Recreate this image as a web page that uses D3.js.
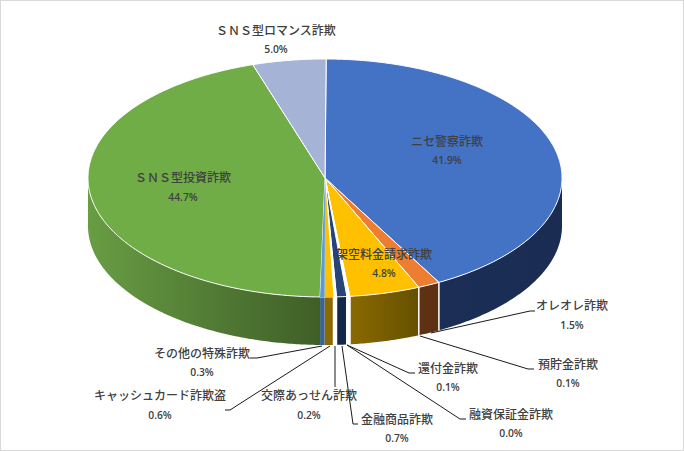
<!DOCTYPE html>
<html><head><meta charset="utf-8">
<script src="https://cdn.jsdelivr.net/npm/d3@7/dist/d3.min.js"></script>
<style>html,body{margin:0;padding:0;background:#fff}svg{display:block}
.name{font:500 12px "Noto Sans CJK JP";fill:#404040;text-anchor:middle}
.pct{font:600 10.3px "Open Sans";fill:#404040;text-anchor:middle}</style>
</head><body><svg id="c" width="684" height="451"></svg>
<script>
const categories=["ニセ警察詐欺","オレオレ詐欺","架空料金請求詐欺","預貯金詐欺","還付金詐欺","融資保証金詐欺","金融商品詐欺","交際あっせん詐欺","キャッシュカード詐欺盗","その他の特殊詐欺","ＳＮＳ型投資詐欺","ＳＮＳ型ロマンス詐欺"];
const values=[41.9,1.5,4.8,0.1,0.1,0.0,0.7,0.2,0.6,0.3,44.7,5.0];
const topColors=["#4472C4","#ED7D31","#FFC000","#fff","#fff","#fff","#264478","#fff","#FFC000","#5B9BD5","#70AD47","#A5B3D7"];
const wallLight=["#1b2e56","#5f3214","#8a6a00","#fff","#fff","#fff","#14264a","#fff","#8a6a00","#3a6490","#689d43","#5a6a90"];
const wallDark=["#1a2c52","#5c3013","#665000","#fff","#fff","#fff","#14264a","#fff","#8a6a00","#3a6490","#3f5e28","#5a6a90"];
// label layout: [name x, name y, pct y, leader points]
const labelX=[447,572,384,568,448,511,397,309,160,202,183,276];
const labelY=[142,306,255,365,369,415,420,396,396,354,178,31];
const pctY=[160,325,273,383,387,433,438,415,415,372,197,49];
const leaders=[null,[[431,333],[530,311],[535,311]],null,[[420,336],[528,369],[534,369]],[[347,345],[409,373],[415,373]],[[347,345],[460,419],[466,419]],[[342,346],[353,424],[358,424]],[[335,346],[335,387]],[[330,346],[230,410],[225,410]],[[322,346],[257,358],[250,358]],null,null];
const svg=d3.select("#c");
const W=684,H=451,depth=48;
const x=d3.scaleLinear().domain([-1,1]).range([88,562]);
const y=d3.scaleLinear().domain([-1,1]).range([59,297]);
svg.append("rect").attr("x",0.5).attr("y",0.5).attr("width",W-1).attr("height",H-1).attr("fill","#fff").attr("stroke","#d9d9d9");
const rot=0.005;
const pie=d3.pie().sort(null).value(d=>d).startAngle(rot).endAngle(2*Math.PI+rot);
const arcs=pie(values);
const defs=svg.append("defs");
const pt=a=>[x(Math.sin(a)),y(-Math.cos(a))];
const samples=(a0,a1)=>{const n=Math.max(2,Math.ceil((a1-a0)/0.01));return d3.range(n+1).map(i=>pt(a0+(a1-a0)*i/n));};
const line=d3.line();
const PI=Math.PI;
const blank=i=>(i>=3&&i<=5)||i==7;
// walls
arcs.forEach((d,i)=>{
  const a0=Math.max(d.startAngle,PI/2),a1=Math.min(d.endAngle,3*PI/2);
  if(a1<=a0)return;
  const top=samples(a0,a1),bot=top.slice().reverse().map(p=>[p[0],p[1]+depth]);
  const g=defs.append("linearGradient").attr("id","w"+i).attr("x1",0).attr("x2",1).attr("y1",0).attr("y2",0);
  g.append("stop").attr("offset",0).attr("stop-color",wallLight[i]);
  g.append("stop").attr("offset",1).attr("stop-color",wallDark[i]);
  svg.append("path").attr("d",line(top.concat(bot))+"Z").attr("fill",`url(#w${i})`)
    .attr("stroke",blank(i)?"#fff":"none").attr("stroke-width",1);
});
// wall separators
arcs.forEach((d,i)=>{
  const a=d.endAngle;
  if(a<=PI/2||a>=3*PI/2||i>=8)return;
  const p=pt(a);
  svg.append("line").attr("x1",p[0]).attr("x2",p[0]).attr("y1",p[1]).attr("y2",p[1]+depth).attr("stroke","#fff").attr("stroke-width",1.5);
});
// top faces
const face=(d,i,sw)=>svg.append("path").attr("d",line([[x(0),y(0)]].concat(samples(d.startAngle,d.endAngle)))+"Z")
  .attr("fill",topColors[i]).attr("stroke",sw?"#fff":"none").attr("stroke-width",sw).attr("stroke-linejoin","round");
arcs.forEach((d,i)=>face(d,i,1));
[8,9].forEach(i=>face(arcs[i],i,0));
// leaders
leaders.forEach(l=>{if(l)svg.append("path").attr("d",line(l)).attr("fill","none").attr("stroke","#1a1a1a").attr("stroke-width",1);});
// labels
categories.forEach((c,i)=>{
  svg.append("text").attr("class","name").attr("x",labelX[i]).attr("y",labelY[i]).attr("dy","0.36em").text(c);
  svg.append("text").attr("class","pct").attr("x",labelX[i]).attr("y",pctY[i]).attr("dy","0.36em").text(values[i].toFixed(1)+"%");
});
</script></body></html>
